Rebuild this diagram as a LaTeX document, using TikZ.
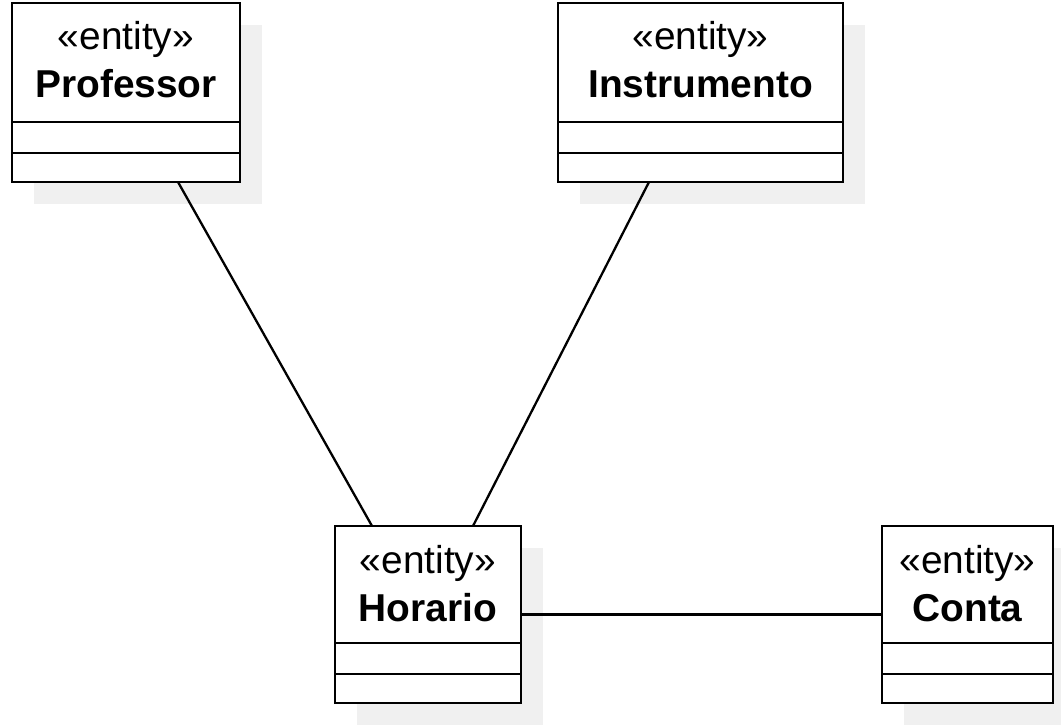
\documentclass[tikz,border=0pt]{standalone}
\usepackage{fontspec}
\setmainfont{Liberation Sans}
\begin{document}
\tikzset{
  entity/.style={draw, line width=2.8bp, fill=white, anchor=north west, inner sep=0pt, outer sep=0pt},
  shadowbox/.style={fill=black!6, draw=none},
  lbl/.style={anchor=base, inner sep=0pt, font=\fontsize{39}{42}\selectfont},
  divider/.style={line width=2.8bp},
  conn/.style={line width=2.3bp}
}
\newcommand\umlclass[6]{% name, x, y, w, h, title
  \fill[shadowbox] (#2+22,#3+22) rectangle ++(#4,#5);
  \node[entity, minimum width=#4bp, minimum height=#5bp] (#1) at (#2,#3) {};
  \draw[divider] ([yshift=60bp]#1.south west) -- ([yshift=60bp]#1.south east);
  \draw[divider] ([yshift=29bp]#1.south west) -- ([yshift=29bp]#1.south east);
  \node[lbl] (#1-st) at ([yshift=-47bp]#1.north) {«entity»};
  \node[lbl] (#1-nm) at ([yshift=-95bp]#1.north) {\bfseries #6};
}
\begin{tikzpicture}[x=1bp, y=-1bp]
  \useasboundingbox (0,0) rectangle (1061,725);
  \umlclass{prof}{12}{3}{228}{179}{Professor}
  \umlclass{inst}{558}{3}{285}{179}{Instrumento}
  \umlclass{hor}{335}{526}{186}{177}{Horario}
  \umlclass{con}{882}{526}{171}{177}{Conta}
  \draw[conn] ([xshift=166bp]prof.south west) -- ([xshift=37bp]hor.north west);
  \draw[conn] ([xshift=91bp]inst.south west) -- ([xshift=138bp]hor.north west);
  \draw[conn] (hor.east) -- (con.west);
\end{tikzpicture}
\end{document}
